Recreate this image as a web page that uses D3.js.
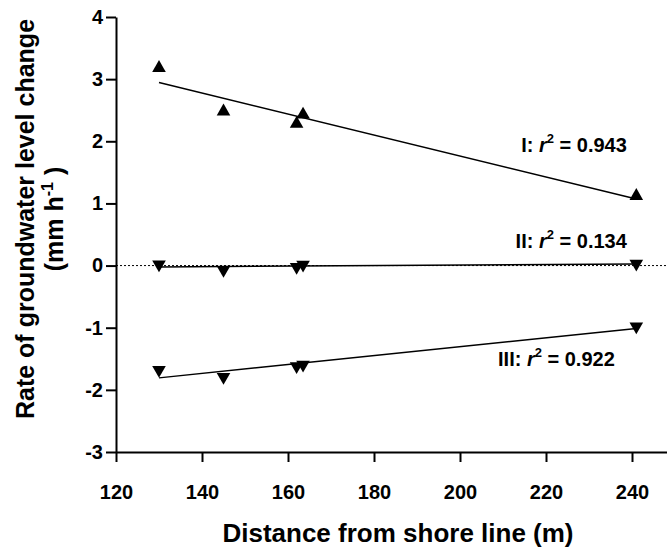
<!DOCTYPE html>
<html>
<head>
<meta charset="utf-8">
<script src="https://cdnjs.cloudflare.com/ajax/libs/d3/7.8.5/d3.min.js"></script>
<style>
  body { margin: 0; background: #fff; }
  svg { display: block; font-family: "Liberation Sans", Arial, sans-serif; font-weight: bold; }
  .axis text { font-size: 20px; font-weight: bold; fill: #000; font-family: "Liberation Sans", Arial, sans-serif; }
  .axis path, .axis line { stroke: #000; stroke-width: 2px; }
  .fit { fill: none; stroke: #000; stroke-width: 1.5px; }
  .zero { stroke: #000; stroke-width: 1px; stroke-dasharray: 2,2; }
</style>
</head>
<body>
<script>
// Data // ---------------------------------------------------------------------
var distance = [130, 145, 162, 163.5, 241];            // m from shore line
var rateI    = [3.18, 2.48, 2.28, 2.43, 1.12];         // mm/h, transect I
var rateII   = [0.02, -0.07, -0.02, 0.015, 0.03];      // transect II
var rateIII  = [-1.68, -1.79, -1.62, -1.595, -0.98];   // transect III
var seriesNames = ["I", "II", "III"];
var r2Values    = ["0.943", "0.134", "0.922"];
var xTicks = [120, 140, 160, 180, 200, 220, 240];
var yTicks = [-3, -2, -1, 0, 1, 2, 3, 4];

// Dimensions // ---------------------------------------------------------------
var margin = {top: 17, right: 0, bottom: 97, left: 116},
    width = 667 - margin.left - margin.right,
    height = 549 - margin.top - margin.bottom;

var x = d3.scaleLinear().domain([120, 248.14]).range([0, width]),
    y = d3.scaleLinear().domain([-3, 4]).range([height, 0]);

var svg = d3.select("body").append("svg")
    .attr("width", 667)
    .attr("height", 549)
  .append("g")
    .attr("transform", "translate(" + margin.left + "," + margin.top + ")");

// least squares fit, drawn over the range of the points
function fit(xs, ys) {
  var mx = d3.mean(xs), my = d3.mean(ys), sxy = 0, sxx = 0;
  xs.forEach(function(v, i) { sxy += (v - mx) * (ys[i] - my); sxx += (v - mx) * (v - mx); });
  var b = sxy / sxx, a = my - b * mx;
  return d3.extent(xs).map(function(v) { return {x: v, y: a + b * v}; });
}

var line = d3.line()
    .x(function(d) { return x(d.x); })
    .y(function(d) { return y(d.y); });

// dotted zero line
svg.append("line")
    .attr("class", "zero")
    .attr("x1", 0).attr("x2", width)
    .attr("y1", y(0)).attr("y2", y(0));

var series = [
  {name: "I",   values: rateI,   up: true},
  {name: "II",  values: rateII,  up: false},
  {name: "III", values: rateIII, up: false}
];

series.forEach(function(s) {
  svg.append("path")
     .datum(fit(distance, s.values))
     .attr("class", "fit")
     .attr("d", line);

  svg.selectAll(null)
     .data(s.values)
     .enter().append("path")
     .attr("d", d3.symbol().type(d3.symbolTriangle).size(80))
     .attr("transform", function(d, i) {
        return "translate(" + x(distance[i]) + "," + y(d) + ")" + (s.up ? "" : " rotate(180)");
     })
     .attr("fill", "#000");
});

// axes
svg.append("g")
   .attr("class", "axis")
   .attr("transform", "translate(0," + height + ")")
   .call(d3.axisBottom(x).tickValues(xTicks).tickSize(10).tickPadding(23).tickSizeOuter(0)
           .tickFormat(function(d) { return String(d); }));

svg.append("g")
   .attr("class", "axis")
   .call(d3.axisLeft(y).tickValues(yTicks).tickSize(10).tickPadding(3).tickSizeOuter(0)
           .tickFormat(function(d) { return String(d); }));

// r^2 annotations (anchor in data units, right aligned)
var annot = [
  {x: 238.8, y: 1.83},
  {x: 238.8, y: 0.28},
  {x: 236.0, y: -1.62}
];
annot.forEach(function(p, i) {
  var t = svg.append("text")
     .attr("x", x(p.x)).attr("y", y(p.y))
     .attr("text-anchor", "end")
     .style("font-size", "20px");
  t.append("tspan").text(seriesNames[i] + ": ");
  t.append("tspan").style("font-style", "italic").text("r");
  t.append("tspan").attr("dy", -9).style("font-size", "13px").text("2");
  t.append("tspan").attr("dy", 9).text(" = " + r2Values[i]);
});

// axis titles
svg.append("text")
   .attr("x", 398 - margin.left)
   .attr("y", 542 - margin.top)
   .attr("text-anchor", "middle")
   .style("font-size", "26px")
   .text("Distance from shore line (m)");

var yTitle = svg.append("g")
   .attr("transform", "translate(" + (-margin.left) + "," + (219 - margin.top) + ") rotate(-90)")
   .attr("text-anchor", "middle")
   .style("font-size", "25px");
yTitle.append("text").attr("y", 34).text("Rate of groundwater level change");
var t2 = yTitle.append("text").attr("y", 63);
t2.append("tspan").text("(mm h");
t2.append("tspan").attr("dy", -10).style("font-size", "16px").text("-1");
t2.append("tspan").attr("dy", 10).text(" )");
</script>
</body>
</html>
